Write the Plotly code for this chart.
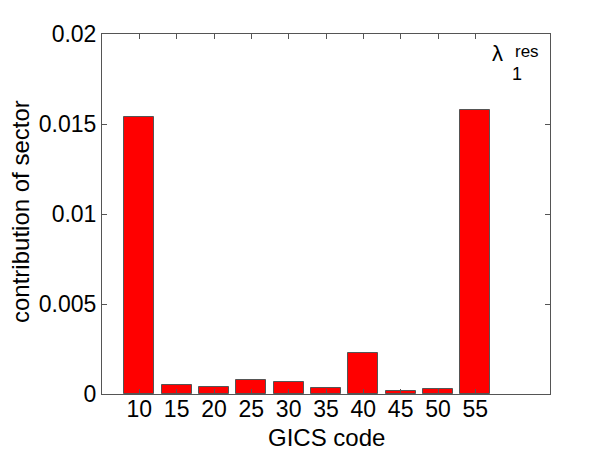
import plotly.graph_objects as go

gics_codes = [10, 15, 20, 25, 30, 35, 40, 45, 50, 55]
contribution = [0.0154, 0.00048, 0.00037, 0.00076, 0.00067, 0.00032, 0.00226, 0.00015, 0.00030, 0.0158]
y_tick_vals = [0, 0.005, 0.01, 0.015, 0.02]
y_tick_text = ["0", "0.005", "0.01", "0.015", "0.02"]

# page has an 8px body margin, so the figure is sized/offset to compensate
OFF = 8
W, H = 602 - OFF, 453 - OFF
L, R, T, B = 102 - OFF, 52, 34 - OFF, 59
pw, ph = W - L - R, H - T - B

def px(x):
    return (x - OFF - L) / pw

def py(y):
    return (H - B - (y - OFF)) / ph

FONT = "Liberation Sans, Arial, Helvetica, sans-serif"

fig = go.Figure()
fig.add_trace(go.Bar(
    x=gics_codes, y=contribution, width=4,
    marker=dict(color="#ff0000", line=dict(color="#555555", width=1)),
))

axis_common = dict(
    showgrid=False, zeroline=False, showline=True, linecolor="#555555", linewidth=1,
    mirror="ticks", ticks="inside", ticklen=5, tickcolor="#555555", automargin=False,
    tickfont=dict(family=FONT, size=23, color="black"),
)
fig.update_xaxes(range=[5, 65], tickvals=gics_codes, ticktext=[str(c) for c in gics_codes],
                 ticklabelstandoff=-6, **axis_common)
fig.update_yaxes(range=[0, 0.02], tickvals=y_tick_vals, ticktext=y_tick_text,
                 **axis_common)

# axis titles
fig.add_annotation(xref="paper", yref="paper", x=px(326), y=py(437), text="GICS code", showarrow=False,
                   font=dict(family=FONT, size=24, color="black"), xanchor="center", yanchor="middle")
fig.add_annotation(xref="paper", yref="paper", x=px(20), y=py(212), text="contribution of sector", showarrow=False,
                   textangle=-90, font=dict(family=FONT, size=24, color="black"), xanchor="center", yanchor="middle")

fig.add_annotation(xref="paper", yref="paper", x=px(497), y=py(53), text="λ", showarrow=False,
                   font=dict(family=FONT, size=22, color="black"), xanchor="center", yanchor="middle")
fig.add_annotation(xref="paper", yref="paper", x=px(517), y=py(74), text="1", showarrow=False,
                   font=dict(family=FONT, size=18, color="black"), xanchor="center", yanchor="middle")
fig.add_annotation(xref="paper", yref="paper", x=px(527), y=py(51), text="res", showarrow=False,
                   font=dict(family=FONT, size=17, color="black"), xanchor="center", yanchor="middle")

fig.update_layout(
    width=W, height=H, margin=dict(l=L, r=R, t=T, b=B, autoexpand=False),
    paper_bgcolor="white", plot_bgcolor="white", showlegend=False,
    bargap=0,
)
fig.write_html("out.html")
